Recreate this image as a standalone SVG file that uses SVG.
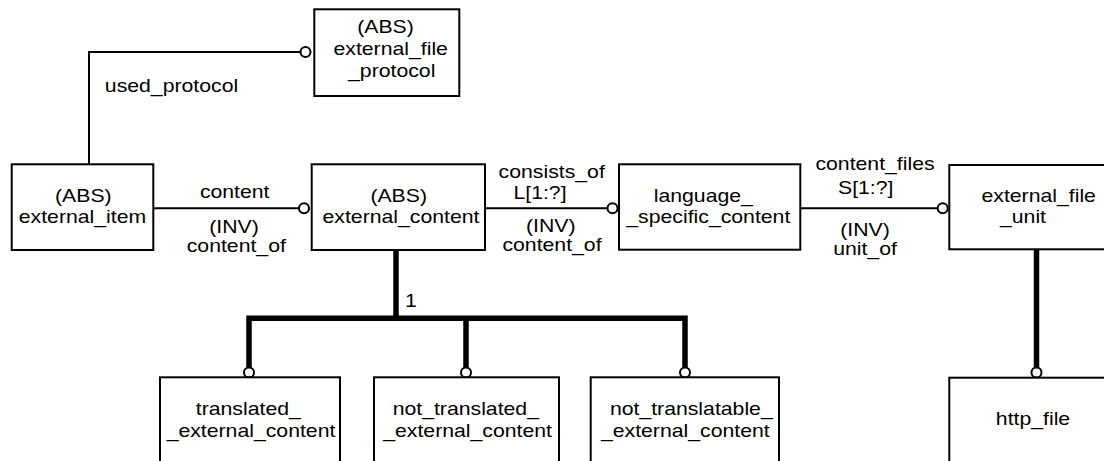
<svg xmlns="http://www.w3.org/2000/svg" width="1104" height="461" viewBox="0 0 1104 461">
  <style>
    .box { fill: #fff; stroke: #000; stroke-width: 2; }
    .rel { fill: none; stroke: #000; stroke-width: 2; }
    .sub { fill: none; stroke: #000; stroke-width: 5.5; stroke-linejoin: miter; }
    .end { fill: #fff; stroke: #000; stroke-width: 2; }
    text { font-family: "Liberation Sans", Arial, Helvetica, sans-serif; font-size: 18px; text-anchor: middle; fill: #000; }
  </style>

  <rect width="1104" height="461" fill="#fff"/>

  <!-- connectors -->
  <g id="connectors">
    <!-- used_protocol -->
    <polyline class="rel" points="89,164 89,52 300.5,52"/>
    <circle class="end" cx="305.5" cy="52" r="5"/>
    <text transform="translate(171.5 91.5) scale(1.18 1)">used_protocol</text>

    <!-- content / content_of -->
    <line class="rel" x1="153" y1="208.3" x2="299" y2="208.3"/>
    <circle class="end" cx="304" cy="208.3" r="5"/>
    <text transform="translate(234.7 198.3) scale(1.18 1)">content</text>
    <text transform="translate(234 232.5) scale(1.18 1)">(INV)</text>
    <text transform="translate(236.3 251.7) scale(1.18 1)">content_of</text>

    <!-- consists_of / content_of -->
    <line class="rel" x1="485" y1="208.3" x2="607.5" y2="208.3"/>
    <circle class="end" cx="612.5" cy="208.3" r="5"/>
    <text transform="translate(551.7 178.3) scale(1.18 1)">consists_of</text>
    <text transform="translate(540 199.3) scale(1.18 1)">L[1:?]</text>
    <text transform="translate(550.8 231.5) scale(1.18 1)">(INV)</text>
    <text transform="translate(552 250.5) scale(1.18 1)">content_of</text>

    <!-- content_files / unit_of -->
    <line class="rel" x1="800.5" y1="208.3" x2="937.7" y2="208.3"/>
    <circle class="end" cx="942.7" cy="208.3" r="5"/>
    <text transform="translate(875 170) scale(1.18 1)">content_files</text>
    <text transform="translate(865.7 193.5) scale(1.18 1)">S[1:?]</text>
    <text transform="translate(865 235.5) scale(1.18 1)">(INV)</text>
    <text transform="translate(865 254.5) scale(1.18 1)">unit_of</text>

    <!-- external_content subtype tree (ONEOF) -->
    <line class="sub" x1="396" y1="250" x2="396" y2="318.3"/>
    <polyline class="sub" points="249,368 249,318.3 685,318.3 685,368"/>
    <line class="sub" x1="466" y1="318.3" x2="466" y2="368"/>
    <circle class="end" cx="249" cy="372.5" r="5"/>
    <circle class="end" cx="466" cy="372.5" r="5"/>
    <circle class="end" cx="685" cy="372.5" r="5"/>
    <text transform="translate(411 306.7) scale(1.18 1)">1</text>

    <!-- external_file_unit subtype -->
    <line class="sub" x1="1036.5" y1="249.5" x2="1036.5" y2="368"/>
    <circle class="end" cx="1036.5" cy="372.5" r="5"/>
  </g>

  <!-- nodes -->
  <g id="external_file_protocol">
    <rect class="box" x="314.3" y="9.3" width="145" height="86.7"/>
    <text transform="translate(385.5 32.5) scale(1.18 1)">(ABS)</text>
    <text transform="translate(390.7 55) scale(1.18 1)">external_file</text>
    <text transform="translate(391.7 76.7) scale(1.18 1)">_protocol</text>
  </g>

  <g id="external_item">
    <rect class="box" x="11.7" y="164.3" width="141.6" height="85.7"/>
    <text transform="translate(83.3 201.7) scale(1.18 1)">(ABS)</text>
    <text transform="translate(82.5 223.3) scale(1.18 1)">external_item</text>
  </g>

  <g id="external_content">
    <rect class="box" x="311.7" y="164.3" width="173.3" height="85.7"/>
    <text transform="translate(398.7 201.7) scale(1.18 1)">(ABS)</text>
    <text transform="translate(401 223.3) scale(1.18 1)">external_content</text>
  </g>

  <g id="language_specific_content">
    <rect class="box" x="619" y="164.3" width="181.3" height="85.4"/>
    <text transform="translate(703.3 201.7) scale(1.18 1)">language_</text>
    <text transform="translate(708.3 222.7) scale(1.18 1)">_specific_content</text>
  </g>

  <g id="external_file_unit">
    <rect class="box" x="949.3" y="165" width="170" height="84.3"/>
    <text transform="translate(1038.7 201.7) scale(1.18 1)">external_file</text>
    <text transform="translate(1023 222.7) scale(1.18 1)">_unit</text>
  </g>

  <g id="translated_external_content">
    <rect class="box" x="160" y="377.3" width="180" height="100"/>
    <text transform="translate(248.3 415) scale(1.18 1)">translated_</text>
    <text transform="translate(251 437) scale(1.18 1)">_external_content</text>
  </g>

  <g id="not_translated_external_content">
    <rect class="box" x="374" y="377.3" width="185" height="100"/>
    <text transform="translate(465.8 415) scale(1.18 1)">not_translated_</text>
    <text transform="translate(467.6 437) scale(1.18 1)">_external_content</text>
  </g>

  <g id="not_translatable_external_content">
    <rect class="box" x="590.7" y="377.3" width="188.3" height="100"/>
    <text transform="translate(691.3 414.5) scale(1.18 1)">not_translatable_</text>
    <text transform="translate(685.3 436.5) scale(1.18 1)">_external_content</text>
  </g>

  <g id="http_file">
    <rect class="box" x="949.3" y="377.7" width="170" height="100"/>
    <text transform="translate(1033 425) scale(1.18 1)">http_file</text>
  </g>
</svg>
